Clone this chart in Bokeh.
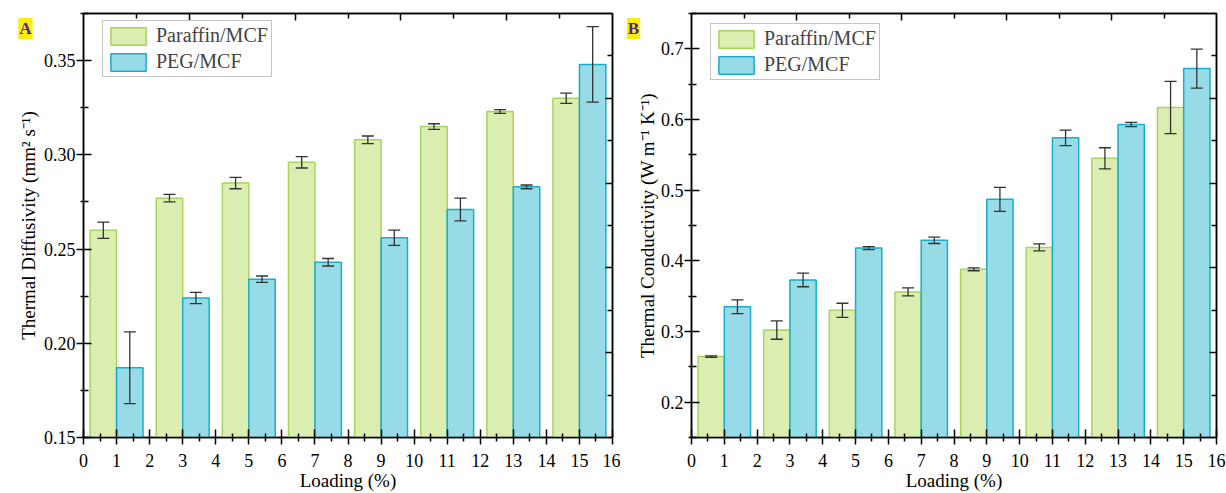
from bokeh.plotting import figure
from bokeh.models import (ColumnDataSource, Range1d, LinearAxis, FixedTicker, Whisker,
                          TeeHead, Label, Legend, LegendItem, NumeralTickFormatter,
                          CustomJSTickFormatter)
from bokeh.transform import dodge
from bokeh.layouts import row
from bokeh.embed import file_html
from bokeh.resources import INLINE

# ---------------- data ----------------
loading = [1, 3, 5, 7, 9, 11, 13, 15]
x_tick_values = list(range(0, 17))
series_names = ["Paraffin/MCF", "PEG/MCF"]

diff_paraffin = [0.260, 0.277, 0.285, 0.296, 0.308, 0.315, 0.323, 0.330]
diff_paraffin_err = [0.0043, 0.002, 0.003, 0.003, 0.002, 0.0015, 0.001, 0.0027]
diff_peg = [0.187, 0.224, 0.234, 0.243, 0.256, 0.271, 0.283, 0.348]
diff_peg_err = [0.019, 0.003, 0.0017, 0.002, 0.004, 0.006, 0.001, 0.020]

cond_paraffin = [0.2645, 0.302, 0.330, 0.356, 0.388, 0.419, 0.545, 0.617]
cond_paraffin_err = [0.001, 0.013, 0.010, 0.0056, 0.002, 0.005, 0.015, 0.037]
cond_peg = [0.335, 0.373, 0.418, 0.429, 0.487, 0.574, 0.593, 0.672]
cond_peg_err = [0.0097, 0.0097, 0.002, 0.0045, 0.017, 0.011, 0.003, 0.0275]

diff_ticks = [0.15, 0.20, 0.25, 0.30, 0.35]
diff_minor = [0.175, 0.225, 0.275, 0.325, 0.375]
cond_ticks = [0.2, 0.3, 0.4, 0.5, 0.6, 0.7]
cond_minor = [0.15, 0.25, 0.35, 0.45, 0.55, 0.65, 0.75]

FONT = "Liberation Serif"
GREEN_FILL, GREEN_LINE = "#dcedb2", "#a6d45c"
BLUE_FILL, BLUE_LINE = "#97dbe6", "#18adc8"
ERR = "#333333"


def make_panel(letter, par, par_err, peg, peg_err, y0, y1, yticks, yminor, yfmt, ylabel,
               width, bleft, bright, letter_x, legend_y, tick_standoff, label_standoff):
    p = figure(width=width, height=493, output_backend="svg", toolbar_location=None,
               x_range=Range1d(0, 16), y_range=Range1d(y0, y1),
               min_border_left=bleft, min_border_right=bright,
               min_border_top=13, min_border_bottom=56)
    p.xgrid.visible = False
    p.ygrid.visible = False
    p.outline_line_color = "black"
    p.outline_line_width = 1.5
    p.background_fill_color = "white"
    p.border_fill_color = "white"

    src = ColumnDataSource(dict(
        x=loading, par=par, peg=peg,
        par_lo=[v - e for v, e in zip(par, par_err)],
        par_hi=[v + e for v, e in zip(par, par_err)],
        peg_lo=[v - e for v, e in zip(peg, peg_err)],
        peg_hi=[v + e for v, e in zip(peg, peg_err)],
    ))

    r_par = p.vbar(x=dodge("x", -0.4, range=p.x_range), top="par", bottom=y0, width=0.8,
                   source=src, fill_color=GREEN_FILL, line_color=GREEN_LINE, line_width=1.5)
    r_peg = p.vbar(x=dodge("x", 0.4, range=p.x_range), top="peg", bottom=y0, width=0.8,
                   source=src, fill_color=BLUE_FILL, line_color=BLUE_LINE, line_width=1.5)

    for off, lo, hi in ((-0.4, "par_lo", "par_hi"), (0.4, "peg_lo", "peg_hi")):
        w = Whisker(source=src, base=dodge("x", off, range=p.x_range), lower=lo, upper=hi,
                    dimension="height", line_color=ERR, line_width=1.3, level="annotation",
                    upper_head=TeeHead(size=12, line_color=ERR, line_width=1.3),
                    lower_head=TeeHead(size=12, line_color=ERR, line_width=1.3))
        p.add_layout(w)

    # bottom axis
    xa = p.xaxis[0]
    xa.ticker = FixedTicker(ticks=x_tick_values, minor_ticks=[v + 0.5 for v in x_tick_values[:-1]])
    xa.axis_label = "Loading (%)"
    # left axis
    ya = p.yaxis[0]
    ya.ticker = FixedTicker(ticks=yticks, minor_ticks=yminor)
    ya.formatter = NumeralTickFormatter(format=yfmt)
    ya.axis_label = ylabel

    for ax in (xa, ya):
        ax.axis_line_color = "black"
        ax.axis_line_width = 1.5
        ax.major_tick_line_color = "black"
        ax.major_tick_line_width = 1.5
        ax.minor_tick_line_color = "black"
        ax.minor_tick_line_width = 1.5
        ax.major_label_text_font = FONT
        ax.major_label_text_color = "black"
        ax.axis_label_text_font = FONT
        ax.axis_label_text_font_size = "19px"
        ax.axis_label_text_font_style = "normal"
        ax.axis_label_text_color = "black"
    xa.major_label_text_font_size = "18px"
    ya.major_label_text_font_size = "18px"
    xa.major_tick_in, xa.major_tick_out = 8, 7
    xa.minor_tick_in, xa.minor_tick_out = 4, 4
    xa.major_label_standoff = 9
    xa.axis_label_standoff = 0
    ya.major_tick_in, ya.major_tick_out = 8, 7
    ya.minor_tick_in, ya.minor_tick_out = 5, 3
    ya.major_label_standoff = tick_standoff
    ya.axis_label_standoff = label_standoff

    # mirrored top / right axes (ticks only)
    p.extra_x_ranges = {"top": Range1d(0, 1)}
    p.extra_y_ranges = {"right": Range1d(0, 1)}
    blank = CustomJSTickFormatter(code="return ''")
    top = LinearAxis(x_range_name="top",
                     ticker=FixedTicker(ticks=[0.2, 0.4, 0.6, 0.8], minor_ticks=[0.1, 0.3, 0.5, 0.7, 0.9]),
                     formatter=blank)
    right = LinearAxis(y_range_name="right",
                       ticker=FixedTicker(ticks=[0.2, 0.4, 0.6, 0.8], minor_ticks=[0.1, 0.3, 0.5, 0.7, 0.9]),
                       formatter=blank)
    for ax in (top, right):
        ax.axis_line_color = "black"
        ax.axis_line_width = 1.5
        ax.major_tick_line_color = "black"
        ax.major_tick_line_width = 1.5
        ax.minor_tick_line_color = "black"
        ax.minor_tick_line_width = 1.5
        ax.major_tick_in, ax.major_tick_out = 7, 0
        ax.minor_tick_in, ax.minor_tick_out = 5, 0
        ax.major_label_standoff = 0
        ax.major_label_text_font_size = "0px"
    p.add_layout(top, "above")
    p.add_layout(right, "right")

    legend = Legend(items=[LegendItem(label=series_names[0], renderers=[r_par]),
                           LegendItem(label=series_names[1], renderers=[r_peg])],
                    location=(19, legend_y), glyph_width=44, glyph_height=22, spacing=3,
                    padding=3, margin=0, label_standoff=6, label_text_font=FONT,
                    label_text_font_size="20px", label_height=22,
                    border_line_color="#888888", border_line_width=1,
                    background_fill_color="white", background_fill_alpha=1)
    p.add_layout(legend)

    # panel letter: placed in a side panel so it is not clipped to the frame
    lab = Label(x=letter_x, y=28, x_units="canvas", y_units="canvas", text=letter,
                text_font=FONT, text_font_size="17px", text_font_style="bold",
                text_color="#4b24a0", text_align="center", text_baseline="middle",
                background_fill_color="#ffee00", background_fill_alpha=1, padding=1)
    p.add_layout(lab, "left")
    return p


pa = make_panel("A", diff_paraffin, diff_paraffin_err, diff_peg, diff_peg_err,
                0.15, 0.375, diff_ticks, diff_minor, "0.00",
                "Thermal Diffusivity (mm² s⁻¹)", 620, 83, 8, 25, 360, 1, 2)
pb = make_panel("B", cond_paraffin, cond_paraffin_err, cond_peg, cond_peg_err,
                0.15, 0.75, cond_ticks, cond_minor, "0.0",
                "Thermal Conductivity (W m⁻¹ K⁻¹)", 606, 68, 10, 13, 357, 1, 0)

layout = row(pa, pb, spacing=0)
open("out.html", "w").write(file_html(layout, INLINE))
